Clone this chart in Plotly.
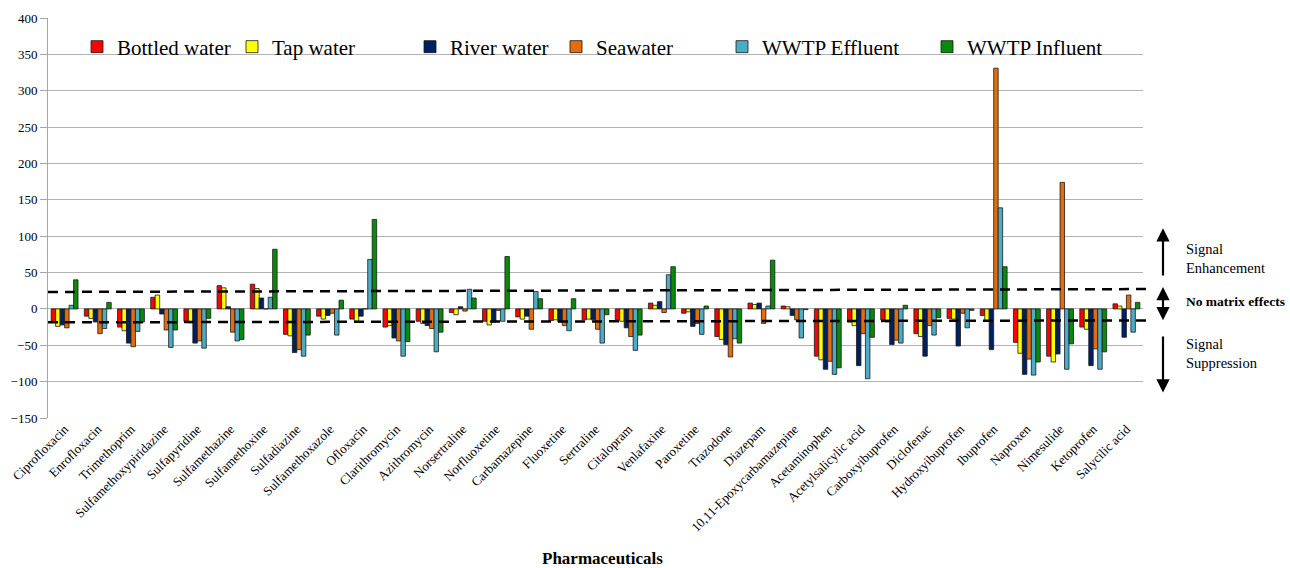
import plotly.graph_objects as go

# Matrix effect (%) of each pharmaceutical in six water matrices
pharmaceuticals = [
    "Ciprofloxacin", "Enrofloxacin", "Trimethoprim", "Sulfamethoxypiridazine",
    "Sulfapyridine", "Sulfamethazine", "Sulfamethoxine", "Sulfadiazine",
    "Sulfamethoxazole", "Ofloxacin", "Clarithromycin", "Azithromycin",
    "Norsertraline", "Norfluoxetine", "Carbamazepine", "Fluoxetine",
    "Sertraline", "Citalopram", "Venlafaxine", "Paroxetine", "Trazodone",
    "Diazepam", "10,11-Epoxycarbamazepine", "Acetaminophen",
    "Acetylsalicylic acid", "Carboxyibuprofen", "Diclofenac",
    "Hydroxyibuprofen", "Ibuprofen", "Naproxen", "Nimesulide", "Ketoprofen",
    "Salycilic acid",
]

bottled_water = [-17, -10, -25, 16, -17, 32, 34, -35, -10, -14, -25, -17, -5, -17,
                 -11, -16, -15, -15, 8, -6, -38, 8, 4, -65, -18, -15, -34, -13,
                 -9, -46, -65, -25, 7]
tap_water = [-24, -13, -30, 19, -19, 29, 28, -37, -14, -17, -23, -20, -8, -22,
             -14, -15, -14, -17, 5, -4, -42, 6, 3, -70, -23, -18, -38, -14,
             -16, -61, -73, -28, 4]
river_water = [-22, -18, -47, -7, -47, 3, 15, -60, -9, -10, -40, -23, 3, -18,
               -10, -18, -15, -26, 10, -24, -49, 8, -9, -83, -78, -49, -65, -51,
               -56, -90, -62, -78, -39]
seawater = [-26, -34, -52, -29, -44, -32, 0, -56, -6, 0, -44, -27, -3, -2,
            -28, -23, -28, -38, -5, -20, -66, -20, -15, -72, -34, -43, -23, -6,
            331, -69, 174, -55, 19]
wwtp_effluent = [5, -27, -31, -53, -54, -44, 16, -65, -36, 68, -65, -59, 27, -17,
                 24, -30, -47, -57, 47, -35, -41, 4, -40, -90, -96, -47, -36, -26,
                 139, -91, -83, -83, -32]
wwtp_influent = [40, 9, -18, -29, -13, -42, 82, -36, 12, 123, -45, -32, 15, 72,
                 14, 14, -8, -36, 58, 4, -47, 67, -1, -81, -39, 5, -12, -2,
                 58, -73, -48, -59, 9]

series = [
    ("Bottled water", bottled_water, "#FF0000"),
    ("Tap water", tap_water, "#FFFF00"),
    ("River water", river_water, "#002060"),
    ("Seawater", seawater, "#E46C0A"),
    ("WWTP Effluent", wwtp_effluent, "#4BACC6"),
    ("WWTP Influent", wwtp_influent, "#0A8A0A"),
]

# "No matrix effects" band limits (left end, right end)
upper_limit = (23.3, 27.3)
lower_limit = (-18.5, -15.8)

SERIF = "Liberation Serif, Times New Roman, serif"
W, H = 1290, 568
L, R, T, B = 48, 147, 18, 150
plot_w = W - L - R

# pixel where each legend entry's label starts
legend_text_px = [117, 272, 450, 596, 762, 967]

fig = go.Figure()
for i, (name, vals, color) in enumerate(series):
    lg = "legend" if i == 0 else f"legend{i + 1}"
    fig.add_trace(go.Bar(
        x=pharmaceuticals, y=vals, name=name, legend=lg,
        marker=dict(color=color, line=dict(color="#1a1a1a", width=0.8)),
    ))

legends = {}
for i, px in enumerate(legend_text_px):
    key = "legend" if i == 0 else f"legend{i + 1}"
    legends[key] = dict(
        x=(px - 40 - L) / plot_w, y=1 - (47 - T) / (H - T - B),
        xanchor="left", yanchor="middle", orientation="h",
        bgcolor="rgba(0,0,0,0)", borderwidth=0,
        font=dict(family=SERIF, size=21, color="#000"),
    )

shapes = []
for (y0, y1) in (upper_limit, lower_limit):
    shapes.append(dict(
        type="line", xref="paper", yref="y", x0=0, x1=1.009, y0=y0, y1=y1,
        line=dict(color="#000", width=2.5, dash="10px,7px"), layer="above",
    ))

arrow_x = (1163 - L) / plot_w
text_x = (1184 - L) / plot_w
note_font = dict(family=SERIF, size=14.5, color="#000")
annotations = [
    dict(xref="paper", yref="y", x=arrow_x, y=111, ax=0, ay=44, axref="pixel",
         ayref="y", showarrow=True, arrowhead=2, arrowsize=1.2, arrowwidth=2.2,
         arrowcolor="#000", text=""),
    dict(xref="paper", yref="y", x=arrow_x, y=30, ax=0, ay=-17.5, axref="pixel",
         ayref="y", showarrow=True, arrowhead=2, startarrowhead=2,
         arrowside="end+start", arrowsize=1.2, startarrowsize=1.2,
         arrowwidth=2.2, arrowcolor="#000", text=""),
    dict(xref="paper", yref="y", x=arrow_x, y=-115, ax=0, ay=-36, axref="pixel",
         ayref="y", showarrow=True, arrowhead=2, arrowsize=1.2, arrowwidth=2.2,
         arrowcolor="#000", text=""),
    dict(xref="paper", yref="y", x=text_x, y=(309.2 - 259) / 0.7278,
         xanchor="left", yanchor="middle", align="left", showarrow=False,
         text="Signal<br>Enhancement", font=note_font),
    dict(xref="paper", yref="y", x=text_x, y=(309.2 - 302) / 0.7278,
         xanchor="left", yanchor="middle", align="left", showarrow=False,
         text="<b>No matrix effects</b>",
         font=dict(family=SERIF, size=13.5, color="#000")),
    dict(xref="paper", yref="y", x=text_x, y=(309.2 - 354) / 0.7278,
         xanchor="left", yanchor="middle", align="left", showarrow=False,
         text="Signal<br>Suppression", font=note_font),
    dict(xref="paper", yref="paper", x=(602 - L) / plot_w, y=(418 - 558) / 400,
         xanchor="center", yanchor="middle", showarrow=False,
         text="<b>Pharmaceuticals</b>", font=dict(family=SERIF, size=17, color="#000")),
]

fig.update_layout(
    width=W, height=H,
    margin=dict(l=L, r=R, t=T, b=B, pad=0),
    paper_bgcolor="white", plot_bgcolor="white",
    barmode="group", bargap=0.19, bargroupgap=0,
    showlegend=True,
    shapes=shapes, annotations=annotations,
    font=dict(family=SERIF, size=13, color="#000"),
    xaxis=dict(
        tickangle=-45, tickfont=dict(family=SERIF, size=13, color="#000"),
        showgrid=False, showline=False, ticks="", automargin=False,
    ),
    yaxis=dict(
        range=[-150, 400], dtick=50, tick0=0,
        tickfont=dict(family=SERIF, size=13, color="#000"),
        showgrid=True, gridcolor="#b3b3b3", gridwidth=1,
        zeroline=True, zerolinecolor="#b3b3b3", zerolinewidth=1,
        showline=True, linecolor="#a6a6a6", linewidth=1,
        ticks="outside", ticklen=7, tickcolor="#a6a6a6",
        automargin=False,
    ),
    **legends,
)

fig.write_html("out.html")
